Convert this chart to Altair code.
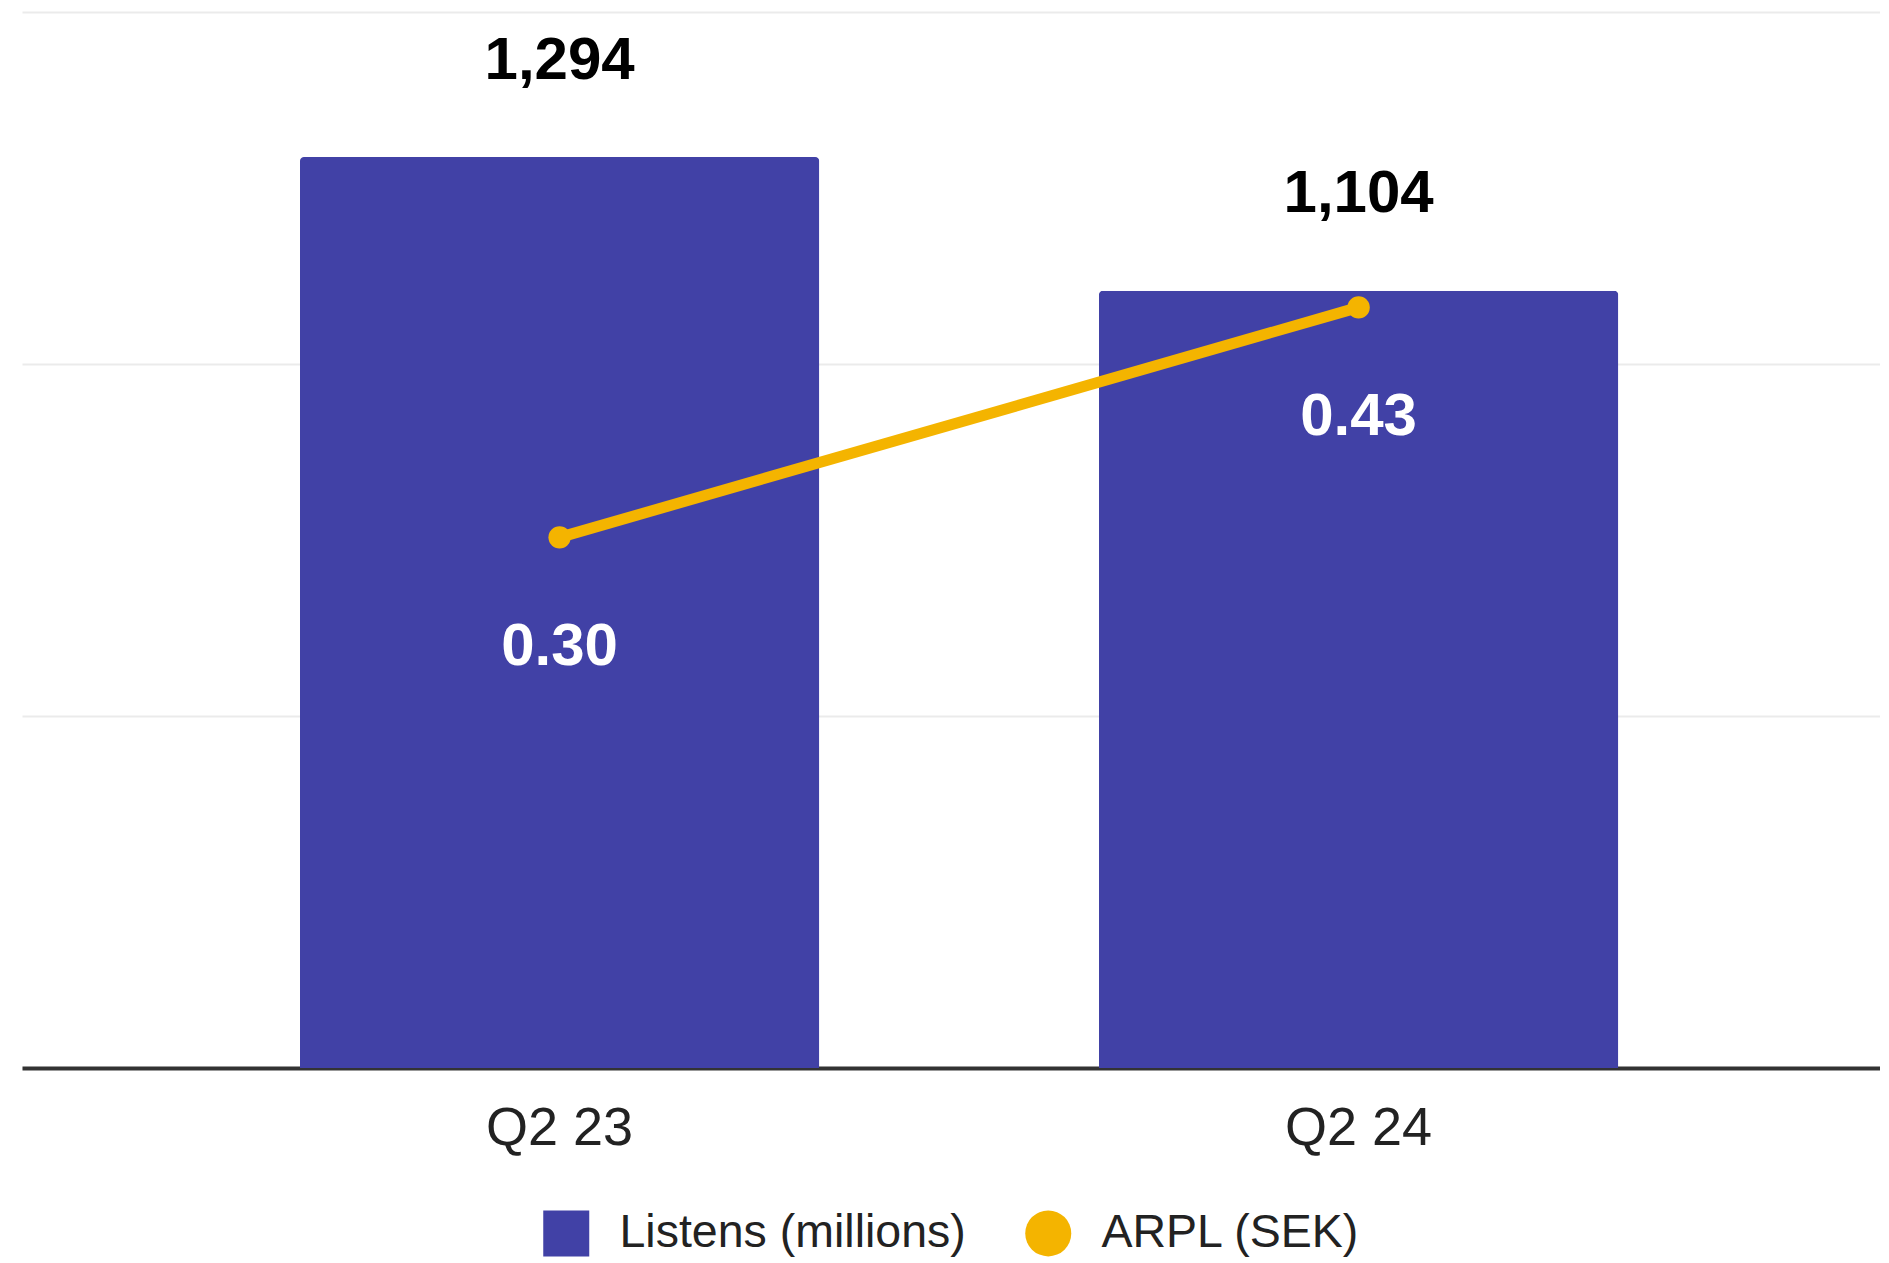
import altair as alt
import pandas as pd

quarters = ["Q2 23", "Q2 24"]
listens = [1294, 1104]
arpl = [0.30, 0.43]
series_names = ["Listens (millions)", "ARPL (SEK)"]
series_colors = ["#4141a6", "#f4b400"]
series_shapes = ["square", "circle"]

bar_df = pd.DataFrame({"quarter": quarters, "value": listens, "series": series_names[0]})
line_df = pd.DataFrame({"quarter": quarters, "value": arpl, "series": series_names[1]})
legend_df = pd.DataFrame({"series": series_names})

FONT = "Liberation Sans"

x_enc = alt.X(
    "quarter:N", sort=quarters, title=None,
    scale=alt.Scale(paddingInner=0.35, paddingOuter=0.3377, align=0.515),
    axis=alt.Axis(labelAngle=0, labelFontSize=54, labelFont=FONT, labelColor="#222222",
                  labelPadding=33, ticks=False, domain=True, domainColor="#333333",
                  domainWidth=4, grid=False),
)

bar_scale = alt.Scale(domain=[0, 1500], nice=False)
line_scale = alt.Scale(domain=[0, 0.597], nice=False)
color_scale = alt.Scale(domain=series_names, range=series_colors)

legend = alt.Legend(
    title=None, orient="none", legendX=521, legendY=1198, direction="horizontal",
    symbolSize=2116, symbolStrokeWidth=0, symbolOpacity=1,
    labelFontSize=46.5, labelFont=FONT, labelColor="#222222",
    labelOffset=30, columnPadding=59, labelLimit=0,
)

bars = alt.Chart(bar_df).mark_bar(cornerRadiusTopLeft=4, cornerRadiusTopRight=4).encode(
    x=x_enc,
    y=alt.Y("value:Q", title=None, scale=bar_scale,
            axis=alt.Axis(values=[0, 500, 1000, 1500], labels=False, ticks=False,
                          domain=False, grid=True, gridColor="#ebebeb", gridWidth=2)),
    color=alt.Color("series:N", scale=color_scale, legend=legend),
)

bar_text = alt.Chart(bar_df).mark_text(
    fontSize=60, fontWeight="bold", font=FONT, color="#000000", baseline="middle", dy=-96.5
).encode(
    x=x_enc,
    y=alt.Y("value:Q", scale=bar_scale, axis=None),
    text=alt.Text("value:Q", format=",d"),
)

line = alt.Chart(line_df).mark_line(
    color=series_colors[1], strokeWidth=11,
    point=alt.OverlayMarkDef(filled=True, size=500, color=series_colors[1], opacity=1),
).encode(
    x=x_enc,
    y=alt.Y("value:Q", scale=line_scale, axis=None),
)

line_text = alt.Chart(line_df).mark_text(
    fontSize=60, fontWeight="bold", font=FONT, color="#ffffff", baseline="middle", dy=110
).encode(
    x=x_enc,
    y=alt.Y("value:Q", scale=line_scale, axis=None),
    text=alt.Text("value:Q", format=".2f"),
)

legend_layer = alt.Chart(legend_df).mark_point(filled=True, opacity=0).encode(
    color=alt.Color("series:N", scale=color_scale, legend=legend),
    shape=alt.Shape("series:N", scale=alt.Scale(domain=series_names, range=series_shapes),
                    legend=legend),
)

chart = alt.layer(bars, bar_text, line, line_text, legend_layer).resolve_scale(
    y="independent"
).properties(
    width=1858, height=1056,
    padding={"left": 14, "top": 4, "right": 0, "bottom": 0},
).configure(background="white").configure_view(strokeWidth=0, stroke=None)

chart.save("out.html", embed_options={"renderer": "svg", "actions": False})
